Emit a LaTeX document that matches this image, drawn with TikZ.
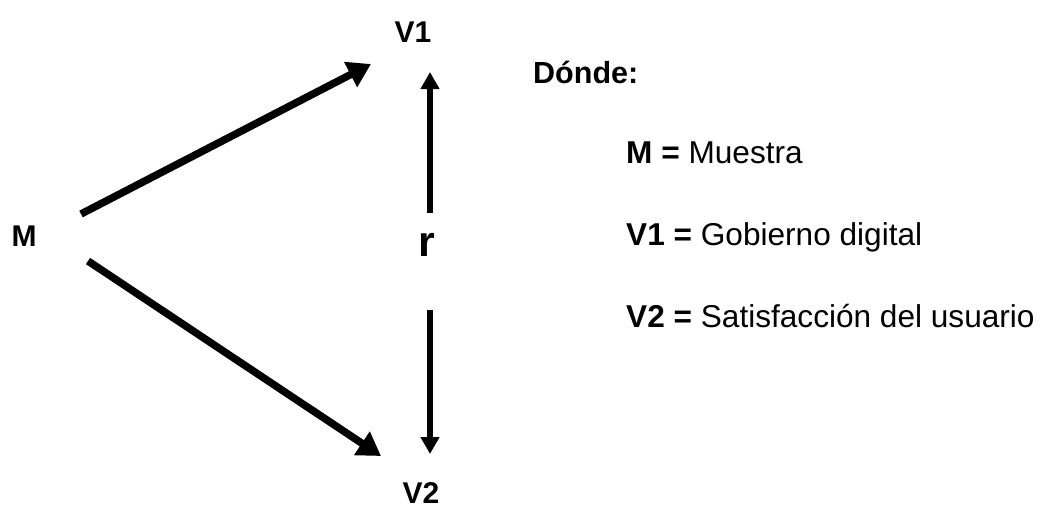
\documentclass[tikz,border=0pt]{standalone}
\usepackage{fontspec}
\setmainfont{Liberation Sans}
\usetikzlibrary{arrows.meta}
\begin{document}
\begin{tikzpicture}[x=1pt,y=-1pt,
  lbl/.style={font=\fontsize{30}{34}\selectfont\bfseries, inner sep=0pt, anchor=base},
  legend/.style={font=\fontsize{31.6}{36}\selectfont, anchor=base west, inner sep=0pt},
  diag/.style={line width=7.5pt, -{Triangle[length=23pt,width=27pt]}},
  vert/.style={line width=5.5pt, -{Triangle[length=17pt,width=18pt]}}]
\useasboundingbox (0,0) rectangle (1043,507);
\node[lbl] (V1) at (413,42) {V1};
\node[lbl] (V2) at (421,503) {V2};
\node[lbl] (M) at (24,246) {M};
\node[font=\fontsize{43}{48}\selectfont\bfseries, inner sep=0pt, anchor=base] (r) at (427,256) {r};
\coordinate (m1) at (81,214);
\coordinate (t1) at (371,64);
\coordinate (m2) at (88,261);
\coordinate (t2) at (381,456);
\coordinate (r1) at (430,213);
\coordinate (u1) at (430,72);
\coordinate (r2) at (430,310);
\coordinate (d2) at (430,454);
\draw[diag] (m1) -- (t1);
\draw[diag] (m2) -- (t2);
\draw[vert] (r1) -- (u1);
\draw[vert] (r2) -- (d2);
\node[legend, font=\fontsize{30.5}{36}\selectfont\bfseries] (don) at (533,83) {Dónde:};
\node[legend] (lm) at (626,163) {\textbf{M =} Muestra};
\node[legend] (lv1) at (626,245) {\textbf{V1 =} Gobierno digital};
\node[legend] (lv2) at (626,327) {\textbf{V2 =} Satisfacción del usuario};
\end{tikzpicture}
\end{document}
